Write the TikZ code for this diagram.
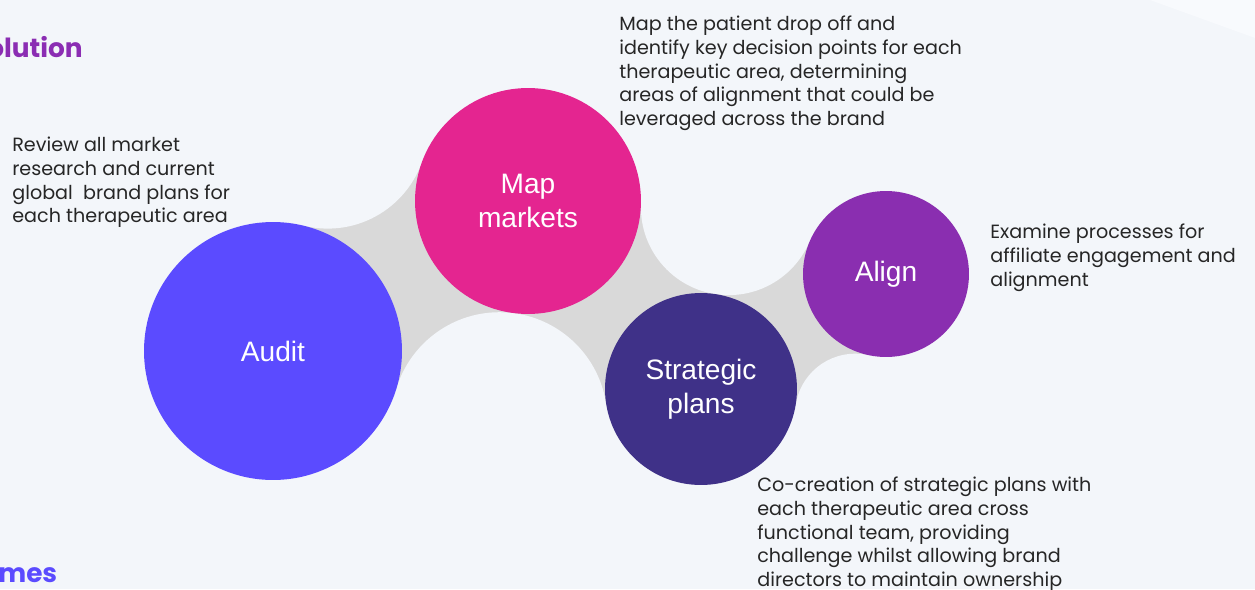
\documentclass[tikz,border=0pt]{standalone}
\usepackage{fontspec}
\setmainfont{Liberation Sans}
\newfontfamily\descfont{Poppins}
\definecolor{bgc}{HTML}{F3F6FA}
\definecolor{bgwhite}{HTML}{F8FAFD}
\definecolor{bridge}{HTML}{D9D9D9}
\definecolor{cAudit}{HTML}{5B4BFF}
\definecolor{cMap}{HTML}{E42590}
\definecolor{cStrat}{HTML}{3F3188}
\definecolor{cAlign}{HTML}{8A2EB0}
\definecolor{txt}{HTML}{262626}
\definecolor{headpurple}{HTML}{8B2DB3}
\tikzset{
  bubble/.style={circle, inner sep=0pt, text=white, align=center,
    font=\fontsize{16}{19.3}\selectfont},
  desc/.style={anchor=north west, inner sep=0pt, align=left, text=txt,
    font=\descfont\fontsize{10.9}{13.45}\selectfont},
  heading/.style={inner sep=0pt, font=\descfont\bfseries\fontsize{15}{18}\selectfont},
  notch/.style={fill=bgc}
}
\begin{document}
\begin{tikzpicture}[x=0.02cm, y=-0.02cm]
\useasboundingbox (0,0) rectangle (1255,589);
\fill[bgc] (0,0) rectangle (1255,589);
\fill[bgwhite] (1150,0) -- (1255,0) -- (1255,38) -- cycle;

% circle positions
\coordinate (pa) at (273,351);
\coordinate (pm) at (528,201);
\coordinate (ps) at (701,389);
\coordinate (pl) at (886,274);
% notch centres
\coordinate (n1) at (327.7,128.6);
\coordinate (n2) at (499.5,420.0);
\coordinate (n3) at (728.7,207.3);
\coordinate (n4) at (855.1,413.7);

% grey bridges
\fill[bridge] (pa) -- (n1) -- (pm) -- (n3) -- (pl) -- (n4) -- (ps) -- (n2) -- cycle;
\fill[notch] (n1) circle[radius=100];
\fill[notch] (n2) circle[radius=107.8];
\fill[notch] (n3) circle[radius=87.8];
\fill[notch] (n4) circle[radius=60];

% bubbles
\node[bubble, fill=cAudit, minimum size=5.16cm] (audit) at (pa) {Audit};
\node[bubble, fill=cMap, minimum size=4.52cm] (map) at (pm) {Map\\markets};
\node[bubble, fill=cStrat, minimum size=3.84cm] (strat) at (ps) {Strategic\\plans};
\node[bubble, fill=cAlign, minimum size=3.32cm] (align) at (pl) {Align};

% descriptions
\node[desc] (dAudit) at (12,137) {Review all market\\research and current\\global\ \ brand plans for\\each therapeutic area};
\node[desc] (dMap) at (619,16) {Map the patient drop off and\\identify key decision points for each\\therapeutic area, determining\\areas of alignment that could be\\leveraged across the brand};
\node[desc] (dAlign) at (990,224) {Examine processes for\\affiliate engagement and\\alignment};
\node[desc] (dStrat) at (757,477) {Co-creation of strategic plans with\\each therapeutic area cross\\functional team, providing\\challenge whilst allowing brand\\directors to maintain ownership};

% cut-off headings
\node[heading, text=headpurple, anchor=base west] (hSol) at (-13,57) {olution};
\node[heading, text=cAudit, anchor=base west] (hOut) at (-2,582) {mes};
\end{tikzpicture}
\end{document}
